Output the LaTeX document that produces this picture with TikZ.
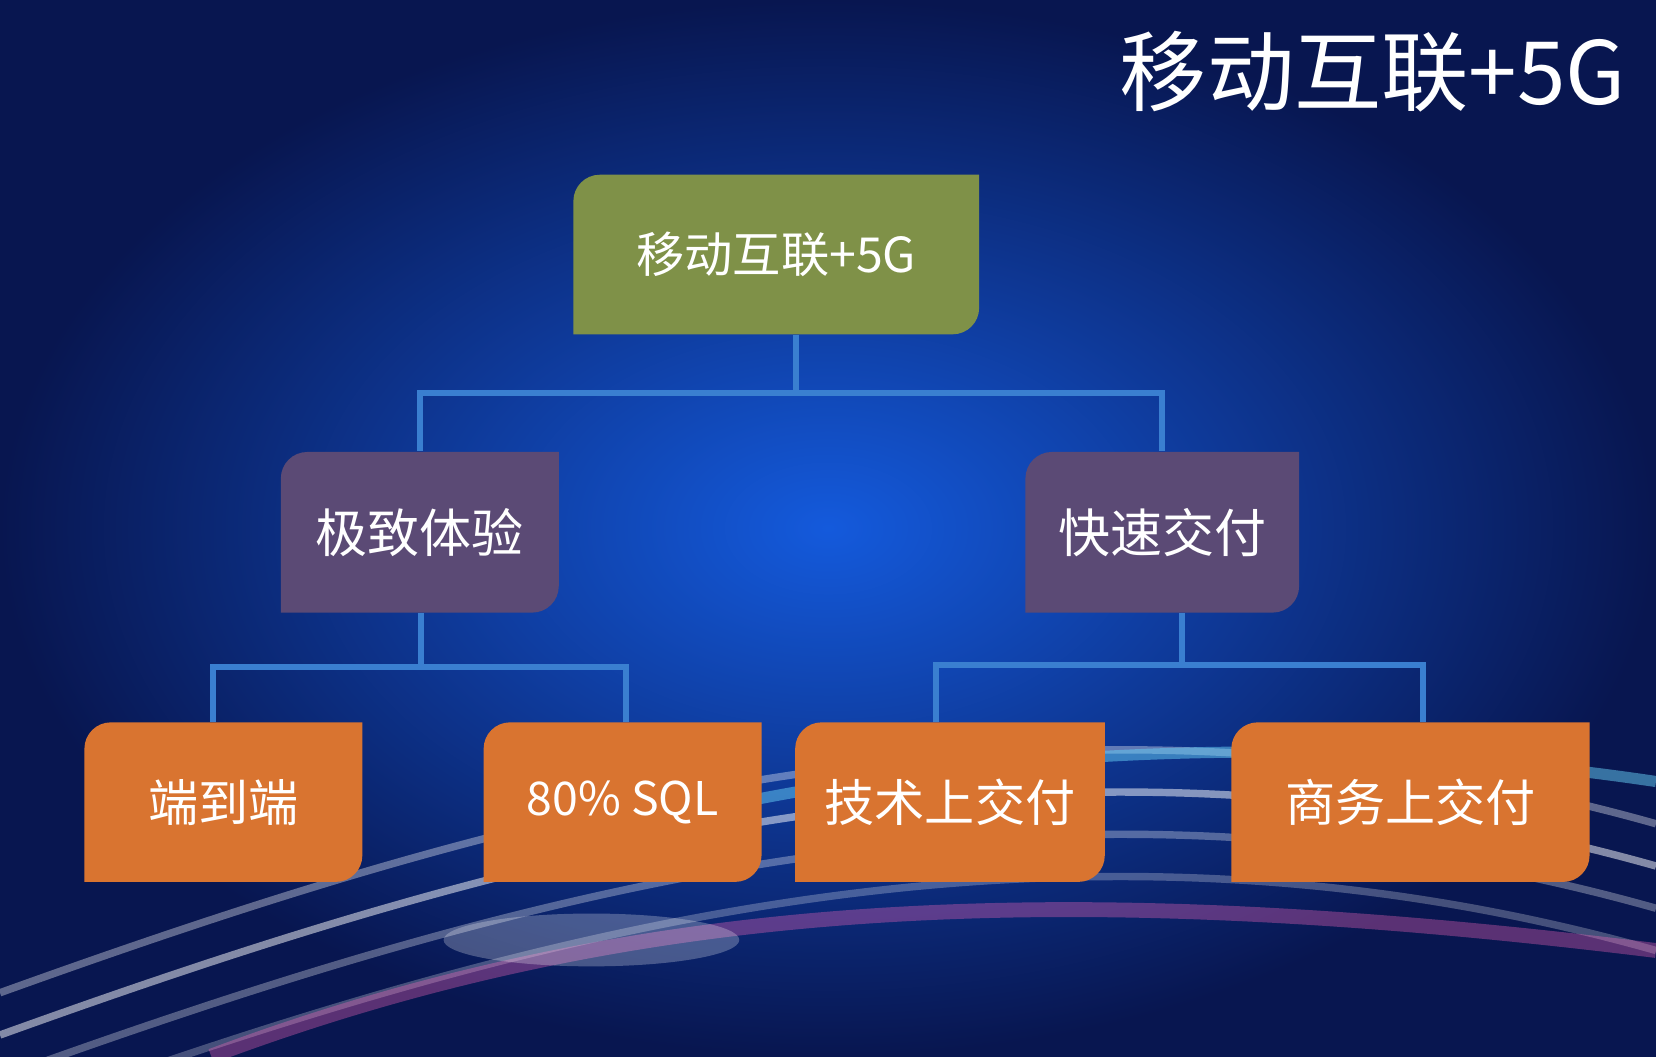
\documentclass[tikz,border=0pt]{standalone}
\usepackage{fontspec}
\setmainfont{Noto Sans CJK SC}
\usetikzlibrary{positioning, arrows.meta}
\definecolor{boxgreen}{RGB}{127,145,72}
\definecolor{boxpurple}{RGB}{91,74,117}
\definecolor{boxorange}{RGB}{217,116,48}
\definecolor{linkblue}{RGB}{58,127,208}
\definecolor{bgdark}{RGB}{8,22,80}
\definecolor{bglight}{RGB}{20,90,220}
\tikzset{
  diag/.style = {minimum height=1.51cm, text=white, inner sep=0pt,
    path picture={\fill[#1] ([yshift=-0.25cm]path picture bounding box.north west)
      arc(180:90:0.25cm) -- (path picture bounding box.north east)
      -- ([yshift=0.25cm]path picture bounding box.south east) arc(0:-90:0.25cm)
      -- (path picture bounding box.south west) -- cycle;}},
  topbox/.style = {diag=boxgreen, minimum width=3.84cm, font=\fontsize{13}{13}\selectfont},
  midbox/.style = {diag=boxpurple, minimum height=1.52cm, font=\fontsize{14}{14}\selectfont},
  leafbox/.style = {diag=boxorange, font=\fontsize{13.5}{14}\selectfont},
  link/.style = {linkblue, line width=1.6pt}
}
\begin{document}
\begin{tikzpicture}[x=0.01cm, y=-0.01cm]
  % background
  \shade[inner color=bglight, outer color=bgdark] (0,0) rectangle (1568,1000);
  \useasboundingbox (0,0) rectangle (1568,1000);
  \foreach \yy/\op in {820/0.35, 860/0.5, 900/0.3, 940/0.25} {
    \draw[white, opacity=\op, line width=2pt] (0,\yy+120) .. controls (500,\yy-60) and (1000,\yy-200) .. (1568,\yy-40);
  }
  \draw[cyan!60, opacity=0.5, line width=3pt] (700,760) .. controls (1000,700) and (1300,700) .. (1568,740);
  \draw[magenta!60, opacity=0.35, line width=4pt] (200,1000) .. controls (600,850) and (1000,830) .. (1568,900);
  \fill[white, opacity=0.25] (560,890) ellipse (140 and 25);
  \node[anchor=east, text=white, font=\fontsize{23.5}{24}\selectfont] (title) at (1552,68) {移动互联+5G};
  % tree
  \node[topbox] (root) at (735,241) {移动互联+5G};
  \node[midbox, minimum width=2.63cm] (exp) at (397.5,504) {极致体验};
  \node[midbox, minimum width=2.59cm] (fast) at (1100.5,504) {快速交付};
  \node[leafbox, minimum width=2.63cm] (e2e) at (211.5,759.5) {端到端};
  \node[leafbox, minimum width=2.63cm, font=\fontsize{12.5}{13}\selectfont] (sql) at (589.5,759.5) {80\% SQL};
  \node[leafbox, minimum width=2.93cm] (tech) at (899.5,759.5) {技术上交付};
  \node[leafbox, minimum width=3.39cm] (biz) at (1335.5,759.5) {商务上交付};
  \coordinate (j0) at (754,372);
  \coordinate (j1) at (399,632);
  \coordinate (j2) at (1119,630);
  \draw[link] (root.south -| j0) -- (j0);
  \draw[link] (j0) -| (exp.north);
  \draw[link] (j0) -| (fast.north);
  \draw[link] (exp.south -| j1) -- (j1);
  \draw[link] (j1) -| ([xshift=-0.1cm]e2e.north);
  \draw[link] (j1) -| ([xshift=0.03cm]sql.north);
  \draw[link] (fast.south -| j2) -- (j2);
  \draw[link] (j2) -| ([xshift=-0.13cm]tech.north);
  \draw[link] (j2) -| ([xshift=0.12cm]biz.north);
\end{tikzpicture}
\end{document}
